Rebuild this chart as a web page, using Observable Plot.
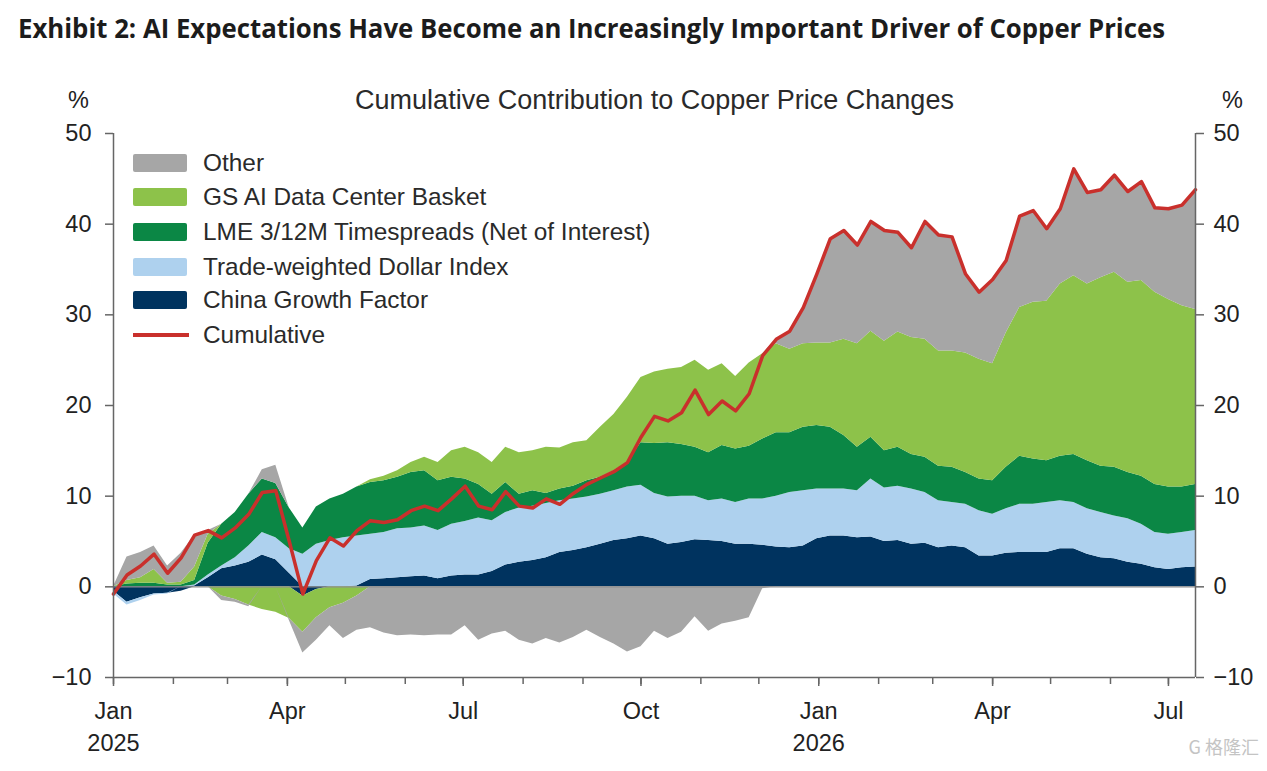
<!DOCTYPE html>
<html>
<head>
<meta charset="utf-8">
<script src="https://cdn.jsdelivr.net/npm/d3@7"></script>
<script src="https://cdn.jsdelivr.net/npm/@observablehq/plot@0.6"></script>
<style>
  html, body { margin: 0; padding: 0; background: #fff; }
  body { width: 1267px; height: 771px; overflow: hidden; position: relative; font-family: "Liberation Sans", Arial, sans-serif; color: #222; }
  #title { position: absolute; left: 18px; top: 13px; font-family: "Open Sans", sans-serif; font-weight: 700; font-size: 26px; line-height: 30px; color: #1c1c1c; white-space: nowrap; transform-origin: 0 0; }
  #chart { position: absolute; left: 0; top: 60px; }
  .lg { position: absolute; left: 133px; height: 24px; display: flex; align-items: center; font-size: 24.4px; color: #2a2a2a; white-space: nowrap; }
  .lg .sw { width: 54px; height: 18px; border-radius: 2px; margin-right: 16px; }
  .lg .ln { width: 56px; height: 4px; margin-right: 14px; background: #c9302c; }
  #wm { position: absolute; right: 8px; bottom: 12px; font-family: "Noto Sans CJK SC", sans-serif; font-size: 18px; color: #c4c4c4; }
</style>
</head>
<body>
<div id="title">Exhibit 2: AI Expectations Have Become an Increasingly Important Driver of Copper Prices</div>
<div id="chart"></div>
<div id="legend"></div>
<div id="wm">G 格隆汇</div>
<script>
// ---- data (weekly, starting 2025-01-01), % contribution ----
const seriesNames = ["China Growth Factor", "Trade-weighted Dollar Index", "LME 3/12M Timespreads (Net of Interest)", "GS AI Data Center Basket", "Other"];
const seriesColors = ["#00335f", "#aed1ee", "#0b8745", "#8dc24a", "#a6a6a6"];
const legendOrder = ["Other", "GS AI Data Center Basket", "LME 3/12M Timespreads (Net of Interest)", "Trade-weighted Dollar Index", "China Growth Factor"];
const weekStart = "2025-01-01";

const china = [-0.5, -1.7, -1.2, -0.8, -0.7, -0.5, 0.1, 1.0, 2.0, 2.3,
  2.7, 3.5, 3.0, 1.5, -1.0, -0.3, 0.0, 0.0, 0.1, 0.8,
  0.9, 1.0, 1.1, 1.2, 0.9, 1.2, 1.3, 1.3, 1.7, 2.4,
  2.7, 2.9, 3.2, 3.8, 4.0, 4.3, 4.7, 5.1, 5.3, 5.6,
  5.3, 4.7, 4.9, 5.2, 5.1, 5.0, 4.7, 4.7, 4.6, 4.4,
  4.3, 4.5, 5.3, 5.6, 5.6, 5.4, 5.5, 5.0, 5.1, 4.7,
  4.8, 4.3, 4.5, 4.3, 3.4, 3.4, 3.7, 3.8, 3.8, 3.8,
  4.2, 4.2, 3.6, 3.2, 3.1, 2.7, 2.5, 2.1, 1.9, 2.1, 2.2];

const dollar = [-0.3, -0.3, -0.3, -0.1, -0.1, 0.0, 0.1, 0.3, 0.3, 0.9,
  1.8, 2.5, 2.4, 2.7, 3.6, 4.7, 5.1, 5.4, 5.5, 5.0,
  5.1, 5.4, 5.4, 5.5, 5.3, 5.7, 5.9, 6.3, 5.6, 5.8,
  6.0, 6.0, 6.0, 5.7, 5.7, 5.6, 5.5, 5.5, 5.7, 5.6,
  5.0, 5.2, 5.1, 4.8, 4.4, 4.7, 4.6, 5.0, 5.1, 5.6,
  6.1, 6.1, 5.5, 5.2, 5.2, 5.2, 6.4, 5.9, 6.0, 6.1,
  5.6, 5.2, 4.8, 4.8, 5.0, 4.6, 4.9, 5.3, 5.3, 5.5,
  5.3, 5.1, 5.0, 5.0, 4.7, 4.8, 4.4, 3.9, 3.9, 3.9, 4.0];

const lme = [0.0, 0.3, 0.4, 0.4, 0.2, 0.2, 0.5, 3.5, 4.6, 5.0,
  5.7, 5.9, 6.0, 4.5, 2.9, 4.1, 4.6, 4.8, 5.4, 5.7,
  5.7, 5.7, 6.1, 6.1, 5.5, 5.2, 4.7, 3.7, 2.9, 3.3,
  1.5, 1.7, 1.1, 1.3, 1.4, 1.8, 1.9, 2.2, 2.7, 4.7,
  5.5, 6.0, 5.7, 5.4, 5.3, 5.9, 5.9, 5.8, 6.6, 7.0,
  6.6, 7.0, 7.0, 6.8, 5.9, 4.8, 4.6, 4.1, 4.3, 3.8,
  3.9, 3.8, 3.9, 3.5, 3.5, 3.7, 4.6, 5.3, 5.0, 4.6,
  4.9, 5.3, 5.3, 5.1, 5.4, 5.1, 5.3, 5.3, 5.2, 5.0, 5.1];

const ai = [0.0, 0.4, 0.6, 1.5, 0.2, 0.3, 1.5, 1.0, -1.0, -1.4,
  -2.0, -2.5, -2.8, -3.5, -4.0, -3.1, -2.3, -1.8, -1.0, 0.3,
  0.5, 0.7, 1.1, 1.5, 2.0, 2.9, 3.5, 3.5, 3.5, 3.9,
  4.6, 4.4, 5.1, 4.5, 4.8, 4.4, 5.5, 6.2, 7.2, 7.2,
  7.9, 8.1, 8.5, 9.6, 9.1, 9.0, 8.0, 9.2, 9.4, 9.8,
  9.2, 9.2, 9.1, 9.3, 10.6, 11.4, 11.7, 12.1, 12.7, 12.9,
  13.0, 12.7, 12.8, 13.2, 13.2, 12.9, 14.8, 16.4, 17.3, 17.6,
  19.0, 19.7, 19.5, 20.8, 21.5, 21.0, 21.6, 21.2, 20.7, 20.0, 19.3];

const other = [0.0, 2.6, 2.8, 2.6, 1.9, 3.2, 3.5, 0.4, -0.5, -0.3,
  -0.2, 1.0, 2.0, -0.2, -2.3, -2.5, -2.0, -3.9, -3.8, -4.5,
  -5.1, -5.4, -5.3, -5.4, -5.3, -5.3, -4.3, -5.9, -5.2, -4.9,
  -5.9, -6.3, -5.7, -6.2, -5.6, -4.8, -5.6, -6.3, -7.2, -6.6,
  -4.9, -5.7, -5.0, -3.3, -4.9, -4.1, -3.8, -3.4, -0.2, 0.5,
  2.0, 4.0, 7.6, 11.5, 12.0, 10.9, 12.1, 12.2, 11.0, 9.9,
  13.0, 12.8, 12.6, 8.7, 7.4, 9.3, 8.0, 10.1, 10.1, 8.0,
  8.3, 11.8, 10.1, 9.7, 10.7, 10.0, 10.9, 9.3, 10.0, 11.1, 13.2];

const cumulative = [-0.8, 1.3, 2.3, 3.6, 1.5, 3.2, 5.7, 6.2, 5.4, 6.5,
  8.0, 10.4, 10.6, 5.0, -0.8, 2.9, 5.4, 4.5, 6.2, 7.3,
  7.1, 7.4, 8.4, 8.9, 8.4, 9.7, 11.1, 8.9, 8.5, 10.5,
  8.9, 8.7, 9.7, 9.1, 10.3, 11.3, 12.0, 12.7, 13.7, 16.5,
  18.8, 18.3, 19.2, 21.7, 19.0, 20.5, 19.4, 21.3, 25.5, 27.3,
  28.2, 30.8, 34.5, 38.4, 39.3, 37.7, 40.3, 39.3, 39.1, 37.4,
  40.3, 38.8, 38.6, 34.5, 32.5, 33.9, 36.0, 40.9, 41.5, 39.5,
  41.7, 46.1, 43.5, 43.8, 45.4, 43.6, 44.7, 41.8, 41.7, 42.1, 43.8];

const yTicks = [-10, 0, 10, 20, 30, 40, 50];
const quarterTicks = ["2025-01-01", "2025-04-01", "2025-07-01", "2025-10-01", "2026-01-01", "2026-04-01", "2026-07-01"];
const quarterLabels = ["Jan\n2025", "Apr", "Jul", "Oct", "Jan\n2026", "Apr", "Jul"];
const chartSubtitle = "Cumulative Contribution to Copper Price Changes";

// ---- build tables ----
const dates = china.map((_, i) => d3.utcDay.offset(new Date(weekStart), 7 * i));
const seriesValues = [china, dollar, lme, ai, other];
const posRows = [], negRows = [];
seriesNames.forEach((s, k) => {
  seriesValues[k].forEach((v, i) => {
    posRows.push({date: dates[i], series: s, value: Math.max(v, 0)});
    negRows.push({date: dates[i], series: s, value: Math.min(v, 0)});
  });
});
const cumRows = cumulative.map((v, i) => ({date: dates[i], value: v}));
const xStart = dates[0], xEnd = dates[dates.length - 1];
const monthTicks = d3.utcMonth.range(xStart, d3.utcDay.offset(xEnd, 1));
const qDates = quarterTicks.map(d => new Date(d));
const qLabel = new Map(qDates.map((d, i) => [+d, quarterLabels[i]]));

const axisColor = "#666";
const chart = Plot.plot({
  width: 1267,
  height: 711,
  marginTop: 73,
  marginBottom: 94,
  marginLeft: 113,
  marginRight: 72,
  style: {fontFamily: '"Liberation Sans", Arial, sans-serif', fontSize: "23px", color: "#222", background: "transparent"},
  x: {type: "utc", domain: [xStart, xEnd]},
  y: {domain: [-10, 50]},
  color: {domain: seriesNames, range: seriesColors},
  marks: [
    Plot.areaY(posRows, {x: "date", y: "value", z: "series", fill: "series", order: seriesNames}),
    Plot.areaY(negRows, {x: "date", y: "value", z: "series", fill: "series", order: seriesNames}),
    Plot.ruleY([0], {stroke: "#8c8c8c", strokeWidth: 1.2}),
    Plot.lineY(cumRows, {x: "date", y: "value", stroke: "#c9302c", strokeWidth: 3.5, strokeLinejoin: "round"}),
    Plot.ruleX([xStart], {stroke: axisColor, strokeWidth: 1.5}),
    Plot.ruleX([xEnd], {stroke: axisColor, strokeWidth: 1.5}),
    Plot.ruleY([-10], {stroke: axisColor, strokeWidth: 1.5}),
    Plot.axisY({anchor: "left", ticks: yTicks, tickSize: 8, tickPadding: 14, stroke: axisColor, strokeWidth: 1.5, fontSize: 23.5, label: null}),
    Plot.axisY({anchor: "right", ticks: yTicks, tickSize: 8, tickPadding: 10, stroke: axisColor, strokeWidth: 1.5, fontSize: 23.5, label: null}),
    Plot.axisX({ticks: monthTicks, tickSize: 7, tickFormat: () => "", stroke: axisColor, strokeWidth: 1.5, label: null}),
    Plot.axisX({ticks: qDates, tickSize: 9, tickPadding: 9, tickFormat: d => qLabel.get(+d), stroke: axisColor, strokeWidth: 1.5, fontSize: 23.5, lineHeight: 1.38, label: null}),
    Plot.text([chartSubtitle], {text: d => d, frameAnchor: "top", dy: -33, fontSize: 27, lineAnchor: "middle", fill: "#2a2a2a"}),
    Plot.text(["%"], {text: d => d, frameAnchor: "top-left", dx: -35, dy: -33, textAnchor: "middle", lineAnchor: "middle", fontSize: 23.5}),
    Plot.text(["%"], {text: d => d, frameAnchor: "top-right", dx: 37, dy: -33, textAnchor: "middle", lineAnchor: "middle", fontSize: 23.5})
  ]
});
document.getElementById("chart").appendChild(chart);

// ---- legend ----
const legend = document.getElementById("legend");
const rowCenters = [163, 197, 232, 267, 300, 335];
legendOrder.forEach((name, i) => {
  const row = document.createElement("div");
  row.className = "lg";
  row.style.top = (rowCenters[i] - 12) + "px";
  const sw = document.createElement("div");
  sw.className = "sw";
  sw.style.background = seriesColors[seriesNames.indexOf(name)];
  row.appendChild(sw);
  row.appendChild(document.createTextNode(name));
  legend.appendChild(row);
});
{
  const row = document.createElement("div");
  row.className = "lg";
  row.style.top = (rowCenters[5] - 12) + "px";
  const ln = document.createElement("div");
  ln.className = "ln";
  row.appendChild(ln);
  row.appendChild(document.createTextNode("Cumulative"));
  legend.appendChild(row);
}

// ---- fit title width ----
const t = document.getElementById("title");
const w = t.getBoundingClientRect().width;
t.style.transform = `scaleX(${1147 / w})`;
</script>
</body>
</html>
